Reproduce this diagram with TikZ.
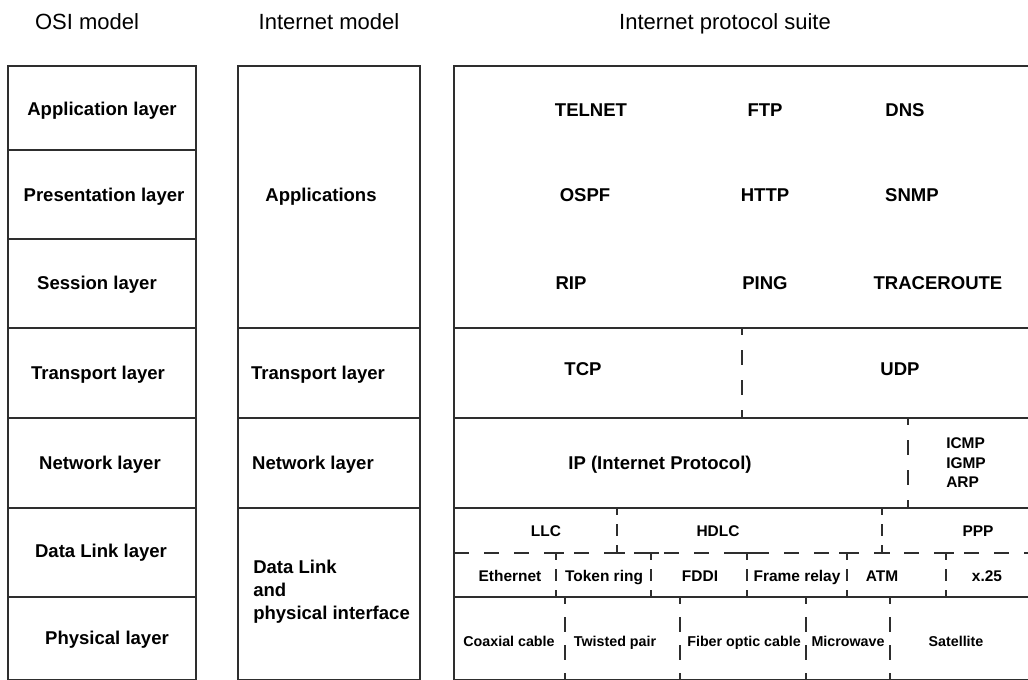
\documentclass[tikz,border=0pt]{standalone}
\usepackage{fontspec}
\setmainfont{Liberation Sans}
\begin{document}
\begin{tikzpicture}[x=0.75pt,y=-0.75pt,
  ink/.style={draw=black!82,line width=1.4pt},
  dsh/.style={draw=black!82,line width=1.4pt,dash pattern=on 11.25pt off 11.25pt},
  dlong/.style={draw=black!82,line width=1.4pt,dash pattern=on 11.25pt off 11.25pt,dash phase=5.625pt},
  dshort/.style={draw=black!82,line width=1.4pt,dash pattern=on 5.25pt off 6.9pt on 9pt off 6.9pt on 5.25pt off 20pt},
  dphys/.style={draw=black!82,line width=1.4pt,dash pattern=on 11.25pt off 9.75pt,dash phase=6pt},
  ttl/.style={inner sep=0pt,text height=11.9pt,text depth=0pt,font=\fontsize{16.5}{20}\selectfont},
  lblf/.style={inner sep=0pt,font=\fontsize{13.9}{17.25}\selectfont\bfseries},
  lbl/.style={lblf,text height=10pt,text depth=0pt},
  smlf/.style={inner sep=0pt,font=\fontsize{11.6}{14.6}\selectfont\bfseries},
  sml/.style={smlf,text height=8.35pt,text depth=0pt},
  tny/.style={inner sep=0pt,text height=7.7pt,text depth=0pt,font=\fontsize{10.7}{13}\selectfont\bfseries}
]
\useasboundingbox (0,0) rectangle (1028,680);
\clip (0,0) rectangle (1028,680);

% titles
\node[ttl] (t1) at (87,22) {OSI model};
\node[ttl] (t2) at (329,22) {Internet model};
\node[ttl] (t3) at (725,22) {Internet protocol suite};

% OSI column
\draw[ink] (8,66) rectangle (196,679.5);
\foreach \y in {150,239,328,418,508,597} \draw[ink] (8,\y) -- (196,\y);
\node[lbl] (o1) at (102,109) {Application layer};
\node[lbl] (o2) at (104,195) {Presentation layer};
\node[lbl] (o3) at (97,283) {Session layer};
\node[lbl] (o4) at (98,373) {Transport layer};
\node[lbl] (o5) at (100,463) {Network layer};
\node[lbl] (o6) at (101,551) {Data Link layer};
\node[lbl] (o7) at (107,638) {Physical layer};

% Internet model column
\draw[ink] (238,66) rectangle (420,679.5);
\foreach \y in {328,418,508} \draw[ink] (238,\y) -- (420,\y);
\node[lbl] (i1) at (321,195) {Applications};
\node[lbl] (i2) at (318,373) {Transport layer};
\node[lbl] (i3) at (313,463) {Network layer};
\node[lblf,anchor=north west,align=left] (i4) at (253,560) {Data Link\\and\\physical interface};

% Internet protocol suite column
\draw[ink] (454,66) rectangle (1040,679.5);
\foreach \y in {328,418,508,597} \draw[ink] (454,\y) -- (1040,\y);

\node[lbl] (telnet) at (591,110) {TELNET};
\node[lbl] (ftp) at (765,110) {FTP};
\node[lbl] (dns) at (905,110) {DNS};
\node[lbl] (ospf) at (585,195) {OSPF};
\node[lbl] (http) at (765,195) {HTTP};
\node[lbl] (snmp) at (912,195) {SNMP};
\node[lbl] (rip) at (571,283) {RIP};
\node[lbl] (ping) at (765,283) {PING};
\node[lbl] (trace) at (938,283) {TRACEROUTE};

% transport
\draw[dlong] (742,328) -- (742,418);
\node[lbl] (tcp) at (583,369) {TCP};
\node[lbl] (udp) at (900,369) {UDP};

% network
\draw[dlong] (908,418) -- (908,508);
\node[lbl] (ip) at (660,463) {IP (Internet Protocol)};
\node[smlf,anchor=west,align=left] (icmp) at (946,463) {ICMP\\IGMP\\ARP};

% data link
\draw[dsh] (454,553) -- (1040,553);
\foreach \x in {617,882} {
  \draw[ink] (\x-8,553) -- (\x+8,553);
  \draw[dshort] (\x,508) -- (\x,553);
}
\foreach \x in {556,651,747,847,946} {
  \draw[ink] (\x-8,553) -- (\x+8,553);
  \draw[dshort] (\x,553) -- (\x,597);
}
\node[sml] (llc) at (546,531) {LLC};
\node[sml] (hdlc) at (718,531) {HDLC};
\node[sml] (ppp) at (978,531) {PPP};
\node[sml] (eth) at (510,576) {Ethernet};
\node[sml] (tok) at (604,576) {Token ring};
\node[sml] (fddi) at (700,576) {FDDI};
\node[sml] (fr) at (797,576) {Frame relay};
\node[sml] (atm) at (882,576) {ATM};
\node[sml] (x25) at (987,576) {x.25};

% physical
\foreach \x in {565,680,806,890} \draw[dphys] (\x,597) -- (\x,680);
\node[tny] (coax) at (509,641) {Coaxial cable};
\node[tny] (tp) at (615,641) {Twisted pair};
\node[tny] (fiber) at (744,641) {Fiber optic cable};
\node[tny] (mw) at (848,641) {Microwave};
\node[tny] (sat) at (956,641) {Satellite};
\end{tikzpicture}
\end{document}
